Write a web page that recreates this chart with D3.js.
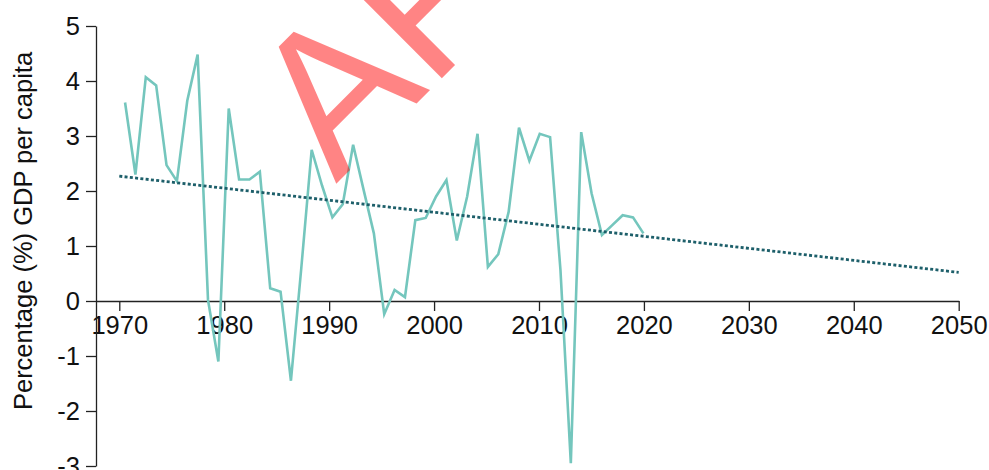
<!DOCTYPE html>
<html>
<head>
<meta charset="utf-8">
<script src="https://cdn.jsdelivr.net/npm/d3@7"></script>
<style>
  html, body { margin: 0; padding: 0; background: #fff; }
  svg { display: block; }
  .axis text { font-family: "Liberation Sans", Arial, sans-serif; font-size: 25.5px; fill: #111; }
  .axis path, .axis line { stroke: #222; stroke-width: 1.3; }
</style>
</head>
<body>
<svg id="chart" width="989" height="470"></svg>
<script>
// ---- data ----
const years = d3.range(1970, 2021);
const growth = [
  3.61, 2.30, 4.07, 3.92, 2.47, 2.18, 3.64, 4.48, 0.02, -1.10,
  3.50, 2.21, 2.21, 2.35, 0.23, 0.17, -1.45, 0.60, 2.75, 2.10,
  1.52, 1.76, 2.84, 2.03, 1.23, -0.24, 0.20, 0.07, 1.47, 1.51,
  1.90, 2.20, 1.10, 1.90, 3.04, 0.62, 0.85, 1.62, 3.15, 2.55,
  3.04, 2.98, 0.56, -2.95, 3.07, 1.96, 1.20, 1.38, 1.56, 1.52,
  1.23
];
const trendYears = [1970, 2050];
const trendValues = [2.27, 0.52];
const xTicks = [1970, 1980, 1990, 2000, 2010, 2020, 2030, 2040, 2050];
const yTicks = [-3, -2, -1, 0, 1, 2, 3, 4, 5];
const yLabel = "Percentage (%) GDP per capita";
const watermark = "AFRICA";

// ---- scales ----
const svg = d3.select("#chart");
const x = d3.scaleLinear().domain([1967.78, 2050]).range([96, 958.7]);
const y = d3.scaleLinear().domain([-3, 5]).range([466, 26]);
// the series is drawn on a slightly compressed year scale, as in the reference
const xLine = d3.scaleLinear().domain([1970, 2020]).range([x(1970.55), x(2019.95)]);

// ---- axes ----
svg.append("g")
  .attr("class", "axis")
  .attr("transform", `translate(0,${y(0)})`)
  .call(d3.axisBottom(x).tickValues(xTicks).tickFormat(d3.format("d"))
        .tickSize(10).tickSizeOuter(0).tickPadding(5));

svg.append("g")
  .attr("class", "axis")
  .attr("transform", `translate(${x.range()[0]},0)`)
  .call(d3.axisLeft(y).tickValues(yTicks).tickFormat(d => String(d))
        .tickSize(10).tickSizeOuter(0).tickPadding(6));

svg.append("text")
  .attr("transform", `translate(31.5,${(y(5) + y(-3)) / 2 - 15}) rotate(-90)`)
  .attr("text-anchor", "middle")
  .style("font-family", '"Liberation Sans", Arial, sans-serif')
  .style("font-size", "25.5px")
  .style("fill", "#111")
  .text(yLabel);

// ---- series ----
const pts = years.map((yr, i) => [yr, growth[i]]);
svg.append("path")
  .datum(pts)
  .attr("fill", "none")
  .attr("stroke", "#74c6bd")
  .attr("stroke-width", 2.6)
  .attr("stroke-linejoin", "miter")
  .attr("d", d3.line().x(d => xLine(d[0])).y(d => y(d[1])));

const trend = trendYears.map((yr, i) => [yr, trendValues[i]]);
svg.append("path")
  .datum(trend)
  .attr("fill", "none")
  .attr("stroke", "#1d5f6a")
  .attr("stroke-width", 2.8)
  .attr("stroke-dasharray", "3,2.3")
  .attr("d", d3.line().x(d => x(d[0])).y(d => y(d[1])));

// ---- watermark ----
svg.append("text")
  .attr("transform", "translate(336,184) rotate(-45)")
  .style("font-family", '"Liberation Sans", Arial, sans-serif')
  .style("font-size", "200px")
  .style("fill", "red")
  .style("opacity", 0.48)
  .text(watermark);
</script>
</body>
</html>
